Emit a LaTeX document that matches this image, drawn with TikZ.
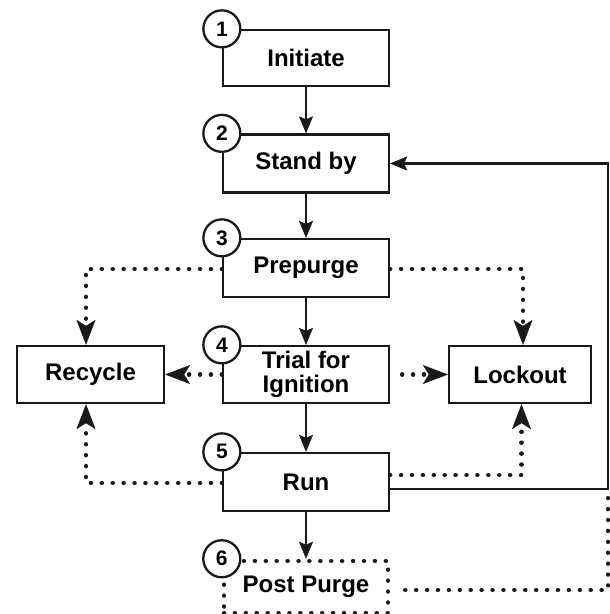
\documentclass[tikz,border=0pt]{standalone}
\usepackage{fontspec}
\setmainfont{Liberation Sans}
\usetikzlibrary{arrows.meta}
\begin{document}
\begin{tikzpicture}[x=1pt,y=-1pt,
  box/.style={draw=black!90, line width=2.3pt, minimum width=166pt, minimum height=58pt, inner sep=0pt,
    font=\fontsize{24}{24.5}\selectfont\bfseries, align=center, fill=white},
  dotbox/.style={line width=4.5pt, draw=black!90, dash pattern=on 0.01pt off 10.9pt, line cap=round,
    minimum width=164pt, minimum height=52pt, inner sep=0pt, font=\fontsize{24}{24.5}\selectfont\bfseries},
  num/.style={circle, draw=black!90, fill=white, line width=2.3pt, minimum size=37pt, inner sep=0pt,
    font=\fontsize{21}{21}\selectfont\bfseries},
  flow/.style={draw=black!90, line width=2.3pt, -{Stealth[length=17pt,width=14pt,inset=3pt,line width=0.5pt]}},
  plain/.style={draw=black!90, line width=2.3pt},
  dotflow/.style={draw=black!90, line width=4.5pt, dash pattern=on 0.01pt off 10.9pt, line cap=round,
    -{Stealth[length=25pt,width=19pt,inset=6pt,line width=0.5pt]}},
  dotline/.style={draw=black!90, line width=4.5pt, dash pattern=on 0.01pt off 10.9pt, line cap=round}
]
\useasboundingbox (0,0) rectangle (610,614);

\node[box, minimum height=56pt] (init) at (306,58) {Initiate};
\node[box] (stby) at (306,163.5) {Stand by};
\node[box] (prep) at (306,268) {Prepurge};
\node[box, minimum height=57pt] (trial) at (306,374.5) {Trial for\\Ignition};
\node[box, minimum width=147pt, minimum height=57pt] (recy) at (90.5,374.5) {Recycle};
\node[box, minimum width=142pt, minimum height=57pt] (lock) at (520,374.5) {Lockout};
\node[box] (run) at (306,482) {Run};
\node[dotbox] (post) at (306,587) {\raisebox{-3pt}{Post Purge}};

\coordinate (rc) at (608,489);
\coordinate (rt) at (608,163.5);

% solid flow
\draw[flow] (init.south) -- (stby.north);
\draw[flow] (stby.south) -- (prep.north);
\draw[flow] (prep.south) -- (trial.north);
\draw[flow] (trial.south) -- (run.north);
\draw[flow] (run.south) -- (post.north);
\draw[flow] ([yshift=-7pt]run.east) -| (rt) -- (stby.east);

% dotted flow
\draw[dotflow] ([yshift=-1pt]prep.west) -| ([xshift=-4.5pt]recy.north);
\draw[dotflow] ([yshift=-1pt]prep.east) -| ([xshift=3pt]lock.north);
\draw[dotflow] (trial.west) -- (recy.east);
\draw[dotflow, shorten <=12pt] (trial.east) -- (lock.west);
\draw[dotflow] ([yshift=-1pt]run.west) -| ([xshift=-4.5pt]recy.south);
\draw[dotflow] ([yshift=7pt]run.east) -| ([xshift=1.5pt]lock.south);
\draw[dotline, shorten <=15pt] ([yshift=-3pt]post.east) -| (rc);

% step numbers
\node[num] (n1) at (init.north west) {1};
\node[num] (n2) at (stby.north west) {2};
\node[num] (n3) at (prep.north west) {3};
\node[num] (n4) at (trial.north west) {4};
\node[num] (n5) at (run.north west) {5};
\node[num] (n6) at (post.north west) {6};
\end{tikzpicture}
\end{document}
